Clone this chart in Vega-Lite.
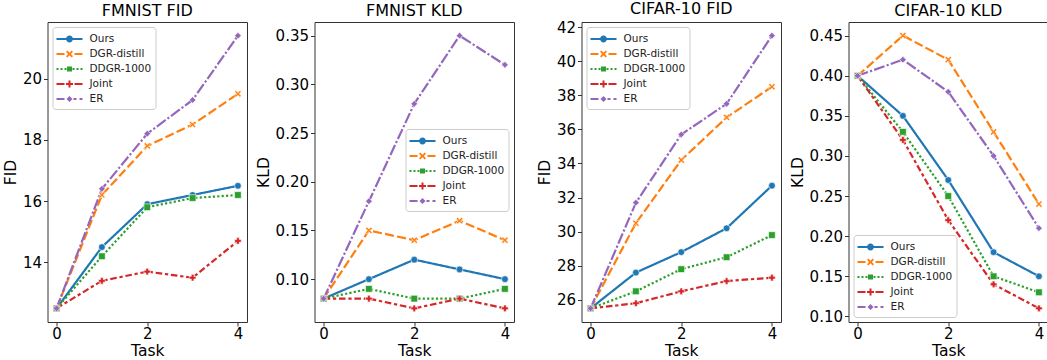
{
  "$schema": "https://vega.github.io/schema/vega-lite/v6.json",
  "background": "white",
  "padding": {"left": 2.5, "top": 0, "right": 0, "bottom": 0},
  "bounds": "flush",
  "spacing": 67,
  "data": {"values": [
    {"p":"fmf","s":"Ours","t":0,"v":12.5},{"p":"fmf","s":"Ours","t":1,"v":14.5},{"p":"fmf","s":"Ours","t":2,"v":15.9},{"p":"fmf","s":"Ours","t":3,"v":16.2},{"p":"fmf","s":"Ours","t":4,"v":16.5},
    {"p":"fmf","s":"DGR-distill","t":0,"v":12.5},{"p":"fmf","s":"DGR-distill","t":1,"v":16.2},{"p":"fmf","s":"DGR-distill","t":2,"v":17.8},{"p":"fmf","s":"DGR-distill","t":3,"v":18.5},{"p":"fmf","s":"DGR-distill","t":4,"v":19.5},
    {"p":"fmf","s":"DDGR-1000","t":0,"v":12.5},{"p":"fmf","s":"DDGR-1000","t":1,"v":14.2},{"p":"fmf","s":"DDGR-1000","t":2,"v":15.8},{"p":"fmf","s":"DDGR-1000","t":3,"v":16.1},{"p":"fmf","s":"DDGR-1000","t":4,"v":16.2},
    {"p":"fmf","s":"Joint","t":0,"v":12.5},{"p":"fmf","s":"Joint","t":1,"v":13.4},{"p":"fmf","s":"Joint","t":2,"v":13.7},{"p":"fmf","s":"Joint","t":3,"v":13.5},{"p":"fmf","s":"Joint","t":4,"v":14.7},
    {"p":"fmf","s":"ER","t":0,"v":12.5},{"p":"fmf","s":"ER","t":1,"v":16.4},{"p":"fmf","s":"ER","t":2,"v":18.2},{"p":"fmf","s":"ER","t":3,"v":19.3},{"p":"fmf","s":"ER","t":4,"v":21.4},

    {"p":"fmk","s":"Ours","t":0,"v":0.08},{"p":"fmk","s":"Ours","t":1,"v":0.10},{"p":"fmk","s":"Ours","t":2,"v":0.12},{"p":"fmk","s":"Ours","t":3,"v":0.11},{"p":"fmk","s":"Ours","t":4,"v":0.10},
    {"p":"fmk","s":"DGR-distill","t":0,"v":0.08},{"p":"fmk","s":"DGR-distill","t":1,"v":0.15},{"p":"fmk","s":"DGR-distill","t":2,"v":0.14},{"p":"fmk","s":"DGR-distill","t":3,"v":0.16},{"p":"fmk","s":"DGR-distill","t":4,"v":0.14},
    {"p":"fmk","s":"DDGR-1000","t":0,"v":0.08},{"p":"fmk","s":"DDGR-1000","t":1,"v":0.09},{"p":"fmk","s":"DDGR-1000","t":2,"v":0.08},{"p":"fmk","s":"DDGR-1000","t":3,"v":0.08},{"p":"fmk","s":"DDGR-1000","t":4,"v":0.09},
    {"p":"fmk","s":"Joint","t":0,"v":0.08},{"p":"fmk","s":"Joint","t":1,"v":0.08},{"p":"fmk","s":"Joint","t":2,"v":0.07},{"p":"fmk","s":"Joint","t":3,"v":0.08},{"p":"fmk","s":"Joint","t":4,"v":0.07},
    {"p":"fmk","s":"ER","t":0,"v":0.08},{"p":"fmk","s":"ER","t":1,"v":0.18},{"p":"fmk","s":"ER","t":2,"v":0.28},{"p":"fmk","s":"ER","t":3,"v":0.35},{"p":"fmk","s":"ER","t":4,"v":0.32},

    {"p":"cif","s":"Ours","t":0,"v":25.5},{"p":"cif","s":"Ours","t":1,"v":27.6},{"p":"cif","s":"Ours","t":2,"v":28.8},{"p":"cif","s":"Ours","t":3,"v":30.2},{"p":"cif","s":"Ours","t":4,"v":32.7},
    {"p":"cif","s":"DGR-distill","t":0,"v":25.5},{"p":"cif","s":"DGR-distill","t":1,"v":30.5},{"p":"cif","s":"DGR-distill","t":2,"v":34.2},{"p":"cif","s":"DGR-distill","t":3,"v":36.7},{"p":"cif","s":"DGR-distill","t":4,"v":38.5},
    {"p":"cif","s":"DDGR-1000","t":0,"v":25.5},{"p":"cif","s":"DDGR-1000","t":1,"v":26.5},{"p":"cif","s":"DDGR-1000","t":2,"v":27.8},{"p":"cif","s":"DDGR-1000","t":3,"v":28.5},{"p":"cif","s":"DDGR-1000","t":4,"v":29.8},
    {"p":"cif","s":"Joint","t":0,"v":25.5},{"p":"cif","s":"Joint","t":1,"v":25.8},{"p":"cif","s":"Joint","t":2,"v":26.5},{"p":"cif","s":"Joint","t":3,"v":27.1},{"p":"cif","s":"Joint","t":4,"v":27.3},
    {"p":"cif","s":"ER","t":0,"v":25.5},{"p":"cif","s":"ER","t":1,"v":31.7},{"p":"cif","s":"ER","t":2,"v":35.7},{"p":"cif","s":"ER","t":3,"v":37.5},{"p":"cif","s":"ER","t":4,"v":41.5},

    {"p":"cik","s":"Ours","t":0,"v":0.40},{"p":"cik","s":"Ours","t":1,"v":0.35},{"p":"cik","s":"Ours","t":2,"v":0.27},{"p":"cik","s":"Ours","t":3,"v":0.18},{"p":"cik","s":"Ours","t":4,"v":0.15},
    {"p":"cik","s":"DGR-distill","t":0,"v":0.40},{"p":"cik","s":"DGR-distill","t":1,"v":0.45},{"p":"cik","s":"DGR-distill","t":2,"v":0.42},{"p":"cik","s":"DGR-distill","t":3,"v":0.33},{"p":"cik","s":"DGR-distill","t":4,"v":0.24},
    {"p":"cik","s":"DDGR-1000","t":0,"v":0.40},{"p":"cik","s":"DDGR-1000","t":1,"v":0.33},{"p":"cik","s":"DDGR-1000","t":2,"v":0.25},{"p":"cik","s":"DDGR-1000","t":3,"v":0.15},{"p":"cik","s":"DDGR-1000","t":4,"v":0.13},
    {"p":"cik","s":"Joint","t":0,"v":0.40},{"p":"cik","s":"Joint","t":1,"v":0.32},{"p":"cik","s":"Joint","t":2,"v":0.22},{"p":"cik","s":"Joint","t":3,"v":0.14},{"p":"cik","s":"Joint","t":4,"v":0.11},
    {"p":"cik","s":"ER","t":0,"v":0.40},{"p":"cik","s":"ER","t":1,"v":0.42},{"p":"cik","s":"ER","t":2,"v":0.38},{"p":"cik","s":"ER","t":3,"v":0.30},{"p":"cik","s":"ER","t":4,"v":0.21}
  ]},
  "resolve": {
    "scale": {"x": "independent", "y": "independent", "color": "independent", "shape": "independent"},
    "legend": {"color": "independent", "shape": "independent"}
  },
  "hconcat": [
    {
      "title": "FMNIST FID",
      "width": 199.5, "height": 300,
      "transform": [{"filter": "datum.p === 'fmf'"}],
      "encoding": {
        "x": {"field": "t", "type": "quantitative", "scale": {"domain": [-0.2, 4.2], "nice": false, "zero": false}, "axis": {"values": [0, 2, 4], "format": "d", "title": "Task"}},
        "y": {"field": "v", "type": "quantitative", "scale": {"domain": [12.055, 21.845], "nice": false, "zero": false}, "axis": {"values": [14, 16, 18, 20], "format": "d", "title": "FID"}}
      },
      "layer": [
        {"mark": {"type": "line", "strokeWidth": 2.2},
         "encoding": {
          "detail": {"field": "s", "type": "nominal"},
          "stroke": {"condition": [{"test": "datum.s === 'Ours'", "value": "#1f77b4"}, {"test": "datum.s === 'DGR-distill'", "value": "#ff7f0e"}, {"test": "datum.s === 'DDGR-1000'", "value": "#2ca02c"}, {"test": "datum.s === 'Joint'", "value": "#d62728"}], "value": "#9467bd"},
          "strokeDash": {"condition": [{"test": "datum.s === 'Ours'", "value": [1, 0]}, {"test": "datum.s === 'DGR-distill'", "value": [9, 3.3]}, {"test": "datum.s === 'DDGR-1000'", "value": [2.2, 2.2]}, {"test": "datum.s === 'Joint'", "value": [6.6, 2.75, 3.3, 2.75]}], "value": [11, 2.2, 2.2, 2.2]}
         }},
        {"mark": {"type": "point", "filled": true, "size": 45, "stroke": "white", "strokeWidth": 0.6, "opacity": 1},
         "encoding": {
          "fill": {"condition": [{"test": "datum.s === 'Ours'", "value": "#1f77b4"}, {"test": "datum.s === 'DGR-distill'", "value": "#ff7f0e"}, {"test": "datum.s === 'DDGR-1000'", "value": "#2ca02c"}, {"test": "datum.s === 'Joint'", "value": "#d62728"}], "value": "#9467bd"},
          "shape": {"condition": [{"test": "datum.s === 'Ours'", "value": "circle"}, {"test": "datum.s === 'DGR-distill'", "value": "M-1,-0.6L-0.6,-1L0,-0.4L0.6,-1L1,-0.6L0.4,0L1,0.6L0.6,1L0,0.4L-0.6,1L-1,0.6L-0.4,0Z"}, {"test": "datum.s === 'DDGR-1000'", "value": "square"}, {"test": "datum.s === 'Joint'", "value": "cross"}], "value": "diamond"}
         }},
        {"mark": {"type": "point", "filled": true, "opacity": 1},
         "transform": [{"filter": "false"}],
         "encoding": {
          "color": {"field": "s", "type": "nominal", "scale": {"domain": ["Ours","DGR-distill","DDGR-1000","Joint","ER"], "range": ["#1f77b4","#ff7f0e","#2ca02c","#d62728","#9467bd"]}, "legend": {"title": null, "orient": "top-left", "offset": 5}},
          "shape": {"field": "s", "type": "nominal", "scale": {"domain": ["Ours","DGR-distill","DDGR-1000","Joint","ER"], "range": [
            "M-1,-0.125H2.25V0.125H-1Z M1.05,0A0.425,0.425 0 1,1 0.2,0A0.425,0.425 0 1,1 1.05,0Z",
            "M-1,-0.125H0V0.125H-1Z M1.25,-0.125H2.25V0.125H1.25Z M0.19,-0.27L0.36,-0.44L0.63,-0.17L0.89,-0.44L1.06,-0.27L0.8,0L1.06,0.27L0.89,0.44L0.63,0.17L0.36,0.44L0.19,0.27L0.45,0Z",
            "M-1,-0.125H-0.75V0.125H-1Z M-0.5,-0.125H-0.25V0.125H-0.5Z M0,-0.125H0.25V0.125H0Z M1,-0.125H1.25V0.125H1Z M1.5,-0.125H1.75V0.125H1.5Z M2,-0.125H2.25V0.125H2Z M0.31,-0.31H0.94V0.31H0.31Z",
            "M-1,-0.125H0V0.125H-1Z M1.25,-0.125H2.25V0.125H1.25Z M0.5,-0.44H0.75V-0.125H1.065V0.125H0.75V0.44H0.5V0.125H0.185V-0.125H0.5Z",
            "M-1,-0.125H0V0.125H-1Z M1.125,-0.125H1.5V0.125H1.125Z M1.875,-0.125H2.25V0.125H1.875Z M0.625,-0.375L1,0L0.625,0.375L0.25,0Z"]}, "legend": {"title": null, "orient": "top-left", "offset": 5}}
         }}
      ]
    },
    {
      "title": "FMNIST KLD",
      "width": 199.5, "height": 300,
      "transform": [{"filter": "datum.p === 'fmk'"}],
      "encoding": {
        "x": {"field": "t", "type": "quantitative", "scale": {"domain": [-0.2, 4.2], "nice": false, "zero": false}, "axis": {"values": [0, 2, 4], "format": "d", "title": "Task"}},
        "y": {"field": "v", "type": "quantitative", "scale": {"domain": [0.056, 0.364], "nice": false, "zero": false}, "axis": {"values": [0.10, 0.15, 0.20, 0.25, 0.30, 0.35], "format": ".2f", "title": "KLD"}}
      },
      "layer": [
        {"mark": {"type": "line", "strokeWidth": 2.2},
         "encoding": {
          "detail": {"field": "s", "type": "nominal"},
          "stroke": {"condition": [{"test": "datum.s === 'Ours'", "value": "#1f77b4"}, {"test": "datum.s === 'DGR-distill'", "value": "#ff7f0e"}, {"test": "datum.s === 'DDGR-1000'", "value": "#2ca02c"}, {"test": "datum.s === 'Joint'", "value": "#d62728"}], "value": "#9467bd"},
          "strokeDash": {"condition": [{"test": "datum.s === 'Ours'", "value": [1, 0]}, {"test": "datum.s === 'DGR-distill'", "value": [9, 3.3]}, {"test": "datum.s === 'DDGR-1000'", "value": [2.2, 2.2]}, {"test": "datum.s === 'Joint'", "value": [6.6, 2.75, 3.3, 2.75]}], "value": [11, 2.2, 2.2, 2.2]}
         }},
        {"mark": {"type": "point", "filled": true, "size": 45, "stroke": "white", "strokeWidth": 0.6, "opacity": 1},
         "encoding": {
          "fill": {"condition": [{"test": "datum.s === 'Ours'", "value": "#1f77b4"}, {"test": "datum.s === 'DGR-distill'", "value": "#ff7f0e"}, {"test": "datum.s === 'DDGR-1000'", "value": "#2ca02c"}, {"test": "datum.s === 'Joint'", "value": "#d62728"}], "value": "#9467bd"},
          "shape": {"condition": [{"test": "datum.s === 'Ours'", "value": "circle"}, {"test": "datum.s === 'DGR-distill'", "value": "M-1,-0.6L-0.6,-1L0,-0.4L0.6,-1L1,-0.6L0.4,0L1,0.6L0.6,1L0,0.4L-0.6,1L-1,0.6L-0.4,0Z"}, {"test": "datum.s === 'DDGR-1000'", "value": "square"}, {"test": "datum.s === 'Joint'", "value": "cross"}], "value": "diamond"}
         }},
        {"mark": {"type": "point", "filled": true, "opacity": 1},
         "transform": [{"filter": "false"}],
         "encoding": {
          "color": {"field": "s", "type": "nominal", "scale": {"domain": ["Ours","DGR-distill","DDGR-1000","Joint","ER"], "range": ["#1f77b4","#ff7f0e","#2ca02c","#d62728","#9467bd"]}, "legend": {"title": null, "orient": "none", "legendX": 91, "legendY": 107}},
          "shape": {"field": "s", "type": "nominal", "scale": {"domain": ["Ours","DGR-distill","DDGR-1000","Joint","ER"], "range": [
            "M-1,-0.125H2.25V0.125H-1Z M1.05,0A0.425,0.425 0 1,1 0.2,0A0.425,0.425 0 1,1 1.05,0Z",
            "M-1,-0.125H0V0.125H-1Z M1.25,-0.125H2.25V0.125H1.25Z M0.19,-0.27L0.36,-0.44L0.63,-0.17L0.89,-0.44L1.06,-0.27L0.8,0L1.06,0.27L0.89,0.44L0.63,0.17L0.36,0.44L0.19,0.27L0.45,0Z",
            "M-1,-0.125H-0.75V0.125H-1Z M-0.5,-0.125H-0.25V0.125H-0.5Z M0,-0.125H0.25V0.125H0Z M1,-0.125H1.25V0.125H1Z M1.5,-0.125H1.75V0.125H1.5Z M2,-0.125H2.25V0.125H2Z M0.31,-0.31H0.94V0.31H0.31Z",
            "M-1,-0.125H0V0.125H-1Z M1.25,-0.125H2.25V0.125H1.25Z M0.5,-0.44H0.75V-0.125H1.065V0.125H0.75V0.44H0.5V0.125H0.185V-0.125H0.5Z",
            "M-1,-0.125H0V0.125H-1Z M1.125,-0.125H1.5V0.125H1.125Z M1.875,-0.125H2.25V0.125H1.875Z M0.625,-0.375L1,0L0.625,0.375L0.25,0Z"]}, "legend": {"title": null, "orient": "none", "legendX": 91, "legendY": 107}}
         }}
      ]
    },
    {
      "title": "CIFAR-10 FID",
      "width": 199.5, "height": 300,
      "transform": [{"filter": "datum.p === 'cif'"}],
      "encoding": {
        "x": {"field": "t", "type": "quantitative", "scale": {"domain": [-0.2, 4.2], "nice": false, "zero": false}, "axis": {"values": [0, 2, 4], "format": "d", "title": "Task"}},
        "y": {"field": "v", "type": "quantitative", "scale": {"domain": [24.7, 42.3], "nice": false, "zero": false}, "axis": {"values": [26, 28, 30, 32, 34, 36, 38, 40, 42], "format": "d", "title": "FID"}}
      },
      "layer": [
        {"mark": {"type": "line", "strokeWidth": 2.2},
         "encoding": {
          "detail": {"field": "s", "type": "nominal"},
          "stroke": {"condition": [{"test": "datum.s === 'Ours'", "value": "#1f77b4"}, {"test": "datum.s === 'DGR-distill'", "value": "#ff7f0e"}, {"test": "datum.s === 'DDGR-1000'", "value": "#2ca02c"}, {"test": "datum.s === 'Joint'", "value": "#d62728"}], "value": "#9467bd"},
          "strokeDash": {"condition": [{"test": "datum.s === 'Ours'", "value": [1, 0]}, {"test": "datum.s === 'DGR-distill'", "value": [9, 3.3]}, {"test": "datum.s === 'DDGR-1000'", "value": [2.2, 2.2]}, {"test": "datum.s === 'Joint'", "value": [6.6, 2.75, 3.3, 2.75]}], "value": [11, 2.2, 2.2, 2.2]}
         }},
        {"mark": {"type": "point", "filled": true, "size": 45, "stroke": "white", "strokeWidth": 0.6, "opacity": 1},
         "encoding": {
          "fill": {"condition": [{"test": "datum.s === 'Ours'", "value": "#1f77b4"}, {"test": "datum.s === 'DGR-distill'", "value": "#ff7f0e"}, {"test": "datum.s === 'DDGR-1000'", "value": "#2ca02c"}, {"test": "datum.s === 'Joint'", "value": "#d62728"}], "value": "#9467bd"},
          "shape": {"condition": [{"test": "datum.s === 'Ours'", "value": "circle"}, {"test": "datum.s === 'DGR-distill'", "value": "M-1,-0.6L-0.6,-1L0,-0.4L0.6,-1L1,-0.6L0.4,0L1,0.6L0.6,1L0,0.4L-0.6,1L-1,0.6L-0.4,0Z"}, {"test": "datum.s === 'DDGR-1000'", "value": "square"}, {"test": "datum.s === 'Joint'", "value": "cross"}], "value": "diamond"}
         }},
        {"mark": {"type": "point", "filled": true, "opacity": 1},
         "transform": [{"filter": "false"}],
         "encoding": {
          "color": {"field": "s", "type": "nominal", "scale": {"domain": ["Ours","DGR-distill","DDGR-1000","Joint","ER"], "range": ["#1f77b4","#ff7f0e","#2ca02c","#d62728","#9467bd"]}, "legend": {"title": null, "orient": "top-left", "offset": 5}},
          "shape": {"field": "s", "type": "nominal", "scale": {"domain": ["Ours","DGR-distill","DDGR-1000","Joint","ER"], "range": [
            "M-1,-0.125H2.25V0.125H-1Z M1.05,0A0.425,0.425 0 1,1 0.2,0A0.425,0.425 0 1,1 1.05,0Z",
            "M-1,-0.125H0V0.125H-1Z M1.25,-0.125H2.25V0.125H1.25Z M0.19,-0.27L0.36,-0.44L0.63,-0.17L0.89,-0.44L1.06,-0.27L0.8,0L1.06,0.27L0.89,0.44L0.63,0.17L0.36,0.44L0.19,0.27L0.45,0Z",
            "M-1,-0.125H-0.75V0.125H-1Z M-0.5,-0.125H-0.25V0.125H-0.5Z M0,-0.125H0.25V0.125H0Z M1,-0.125H1.25V0.125H1Z M1.5,-0.125H1.75V0.125H1.5Z M2,-0.125H2.25V0.125H2Z M0.31,-0.31H0.94V0.31H0.31Z",
            "M-1,-0.125H0V0.125H-1Z M1.25,-0.125H2.25V0.125H1.25Z M0.5,-0.44H0.75V-0.125H1.065V0.125H0.75V0.44H0.5V0.125H0.185V-0.125H0.5Z",
            "M-1,-0.125H0V0.125H-1Z M1.125,-0.125H1.5V0.125H1.125Z M1.875,-0.125H2.25V0.125H1.875Z M0.625,-0.375L1,0L0.625,0.375L0.25,0Z"]}, "legend": {"title": null, "orient": "top-left", "offset": 5}}
         }}
      ]
    },
    {
      "title": "CIFAR-10 KLD",
      "width": 199.5, "height": 300,
      "transform": [{"filter": "datum.p === 'cik'"}],
      "encoding": {
        "x": {"field": "t", "type": "quantitative", "scale": {"domain": [-0.2, 4.2], "nice": false, "zero": false}, "axis": {"values": [0, 2, 4], "format": "d", "title": "Task"}},
        "y": {"field": "v", "type": "quantitative", "scale": {"domain": [0.093, 0.467], "nice": false, "zero": false}, "axis": {"values": [0.10, 0.15, 0.20, 0.25, 0.30, 0.35, 0.40, 0.45], "format": ".2f", "title": "KLD"}}
      },
      "layer": [
        {"mark": {"type": "line", "strokeWidth": 2.2},
         "encoding": {
          "detail": {"field": "s", "type": "nominal"},
          "stroke": {"condition": [{"test": "datum.s === 'Ours'", "value": "#1f77b4"}, {"test": "datum.s === 'DGR-distill'", "value": "#ff7f0e"}, {"test": "datum.s === 'DDGR-1000'", "value": "#2ca02c"}, {"test": "datum.s === 'Joint'", "value": "#d62728"}], "value": "#9467bd"},
          "strokeDash": {"condition": [{"test": "datum.s === 'Ours'", "value": [1, 0]}, {"test": "datum.s === 'DGR-distill'", "value": [9, 3.3]}, {"test": "datum.s === 'DDGR-1000'", "value": [2.2, 2.2]}, {"test": "datum.s === 'Joint'", "value": [6.6, 2.75, 3.3, 2.75]}], "value": [11, 2.2, 2.2, 2.2]}
         }},
        {"mark": {"type": "point", "filled": true, "size": 45, "stroke": "white", "strokeWidth": 0.6, "opacity": 1},
         "encoding": {
          "fill": {"condition": [{"test": "datum.s === 'Ours'", "value": "#1f77b4"}, {"test": "datum.s === 'DGR-distill'", "value": "#ff7f0e"}, {"test": "datum.s === 'DDGR-1000'", "value": "#2ca02c"}, {"test": "datum.s === 'Joint'", "value": "#d62728"}], "value": "#9467bd"},
          "shape": {"condition": [{"test": "datum.s === 'Ours'", "value": "circle"}, {"test": "datum.s === 'DGR-distill'", "value": "M-1,-0.6L-0.6,-1L0,-0.4L0.6,-1L1,-0.6L0.4,0L1,0.6L0.6,1L0,0.4L-0.6,1L-1,0.6L-0.4,0Z"}, {"test": "datum.s === 'DDGR-1000'", "value": "square"}, {"test": "datum.s === 'Joint'", "value": "cross"}], "value": "diamond"}
         }},
        {"mark": {"type": "point", "filled": true, "opacity": 1},
         "transform": [{"filter": "false"}],
         "encoding": {
          "color": {"field": "s", "type": "nominal", "scale": {"domain": ["Ours","DGR-distill","DDGR-1000","Joint","ER"], "range": ["#1f77b4","#ff7f0e","#2ca02c","#d62728","#9467bd"]}, "legend": {"title": null, "orient": "bottom-left", "offset": 5}},
          "shape": {"field": "s", "type": "nominal", "scale": {"domain": ["Ours","DGR-distill","DDGR-1000","Joint","ER"], "range": [
            "M-1,-0.125H2.25V0.125H-1Z M1.05,0A0.425,0.425 0 1,1 0.2,0A0.425,0.425 0 1,1 1.05,0Z",
            "M-1,-0.125H0V0.125H-1Z M1.25,-0.125H2.25V0.125H1.25Z M0.19,-0.27L0.36,-0.44L0.63,-0.17L0.89,-0.44L1.06,-0.27L0.8,0L1.06,0.27L0.89,0.44L0.63,0.17L0.36,0.44L0.19,0.27L0.45,0Z",
            "M-1,-0.125H-0.75V0.125H-1Z M-0.5,-0.125H-0.25V0.125H-0.5Z M0,-0.125H0.25V0.125H0Z M1,-0.125H1.25V0.125H1Z M1.5,-0.125H1.75V0.125H1.5Z M2,-0.125H2.25V0.125H2Z M0.31,-0.31H0.94V0.31H0.31Z",
            "M-1,-0.125H0V0.125H-1Z M1.25,-0.125H2.25V0.125H1.25Z M0.5,-0.44H0.75V-0.125H1.065V0.125H0.75V0.44H0.5V0.125H0.185V-0.125H0.5Z",
            "M-1,-0.125H0V0.125H-1Z M1.125,-0.125H1.5V0.125H1.125Z M1.875,-0.125H2.25V0.125H1.875Z M0.625,-0.375L1,0L0.625,0.375L0.25,0Z"]}, "legend": {"title": null, "orient": "bottom-left", "offset": 5}}
         }}
      ]
    }
  ],
  "config": {
    "font": "DejaVu Sans",
    "view": {"stroke": "#333333", "strokeWidth": 1},
    "axis": {"labelFont": "DejaVu Sans", "titleFont": "DejaVu Sans", "labelFontSize": 15, "titleFontSize": 15.5, "titleFontWeight": "normal", "labelColor": "#000000", "titleColor": "#000000", "tickColor": "#333333", "tickSize": 4, "tickWidth": 1, "domain": false, "grid": false, "labelPadding": 2, "titlePadding": 4},
    "axisX": {"labelAngle": 0, "titlePadding": 2, "labelPadding": 0},
    "title": {"font": "DejaVu Sans", "fontSize": 16, "fontWeight": "normal", "color": "#000000", "offset": 3},
    "legend": {"labelFont": "DejaVu Sans", "labelFontSize": 10.5, "labelColor": "#222222", "symbolSize": 256, "symbolStrokeWidth": 0, "labelOffset": 17, "rowPadding": 1, "padding": 4, "strokeColor": "#cccccc", "fillColor": "rgba(255,255,255,0.8)", "cornerRadius": 3}
  }
}
